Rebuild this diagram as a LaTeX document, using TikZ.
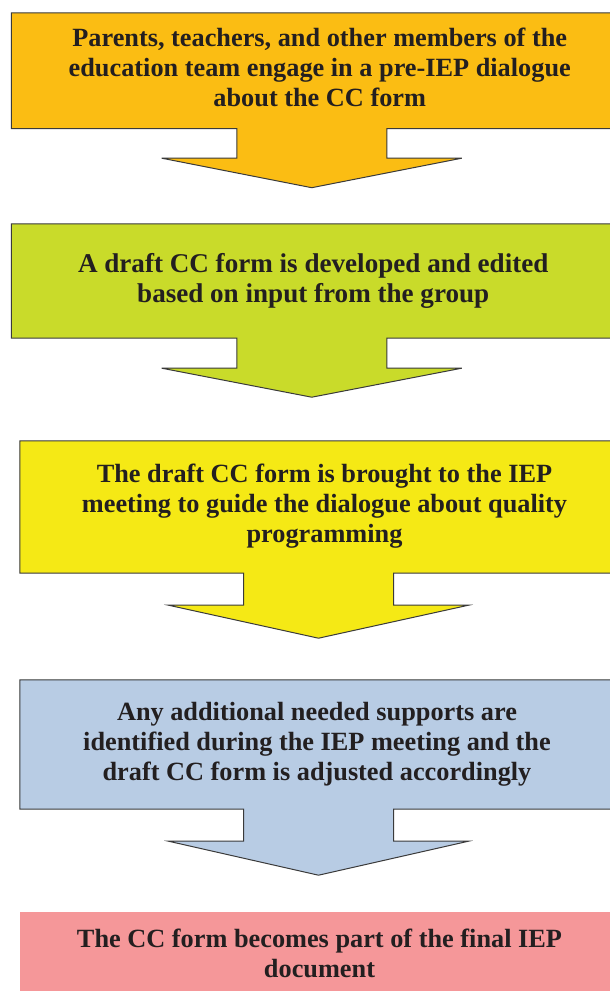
\documentclass[tikz,border=0pt]{standalone}
\usepackage{fontspec}
\setmainfont{Liberation Serif}[BoldFont={Liberation Serif Bold}]
\usepackage{xcolor}
\usetikzlibrary{positioning, calc, backgrounds}
\definecolor{ccorange}{HTML}{FBBD13}
\definecolor{ccgreen}{HTML}{C9DB2A}
\definecolor{ccyellow}{HTML}{F5E915}
\definecolor{ccblue}{HTML}{B8CCE4}
\definecolor{ccpink}{HTML}{F59799}
\definecolor{cctext}{HTML}{231F20}
\definecolor{ccline}{HTML}{3A3A3A}

\begin{document}
\begin{tikzpicture}[x=1pt, y=-1pt,
    stepbox/.style={rectangle, inner sep=0pt},
    steptext/.style={inner sep=0pt, align=center, text=cctext,
      font=\bfseries\fontsize{26.3}{30}\selectfont},
    outline/.style={draw=ccline, line width=1pt, line join=miter}]
  \useasboundingbox (0,0) rectangle (610,991);
  % step boxes, top to bottom
  \node[stepbox, minimum width=600.5pt, minimum height=115.5pt] (dialogue) at (311.75,70.75) {};
  \node[stepbox, minimum width=600.5pt, minimum height=114pt] (draft) at (311.75,281) {};
  \node[stepbox, minimum width=597pt, minimum height=132pt] (meeting) at (318.5,507) {};
  \node[stepbox, minimum width=597pt, minimum height=129pt] (adjust) at (318.5,744.5) {};
  \node[stepbox, fill=ccpink, minimum width=597pt, minimum height=83pt] (final) at (318.5,953.5) {};
  % texts
  \node[steptext] (dialoguetext) at ($(dialogue)+(8,-3.5)$)
    {Parents, teachers, and other members of the\\education team engage in a pre-IEP dialogue\\about the CC form};
  \node[steptext, font=\bfseries\fontsize{27.1}{30}\selectfont] (drafttext) at ($(draft)+(1.5,-0.5)$)
    {A draft CC form is developed and edited\\based on input from the group};
  \node[steptext] (meetingtext) at ($(meeting)+(6,-1)$)
    {The draft CC form is brought to the IEP\\meeting to guide the dialogue about quality\\programming};
  \node[steptext] (adjusttext) at ($(adjust)+(-1.5,0)$)
    {Any additional needed supports are\\identified during the IEP meeting and the\\draft CC form is adjusted accordingly};
  \node[steptext] (finaltext) at ($(final)+(1,0)$)
    {The CC form becomes part of the final IEP\\document};
  % box outlines with the down arrows
  \begin{scope}[on background layer]
    \foreach \n/\c/\s/\h in {dialogue/ccorange/29.5/29.5, draft/ccgreen/30/29,
        meeting/ccyellow/32/33, adjust/ccblue/32/34}
      \draw[outline, fill=\c] (\n.north west) -- (\n.north east) -- (\n.south east)
        -- ($(\n.south)+(75,0)$) -- ++(0,\s) -- ++(75,0) -- ($(\n.south)+(0,\s+\h)$)
        -- ($(\n.south)+(-150,\s)$) -- ++(75,0) -- ($(\n.south)+(-75,0)$)
        -- (\n.south west) -- cycle;
  \end{scope}
\end{tikzpicture}
\end{document}
